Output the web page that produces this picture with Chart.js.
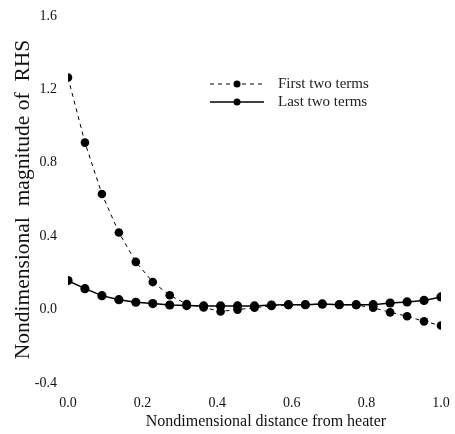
<!DOCTYPE html>
<html>
<head>
<meta charset="utf-8">
<script src="https://cdn.jsdelivr.net/npm/chart.js@4/dist/chart.umd.min.js"></script>
<style>
html,body{margin:0;padding:0;background:#fff;}
canvas{display:block;}
</style>
</head>
<body>
<canvas id="c" width="455" height="434"></canvas>
<script>
// x positions: 23 evenly spaced stations from 0 to 1
const xValues = [0,1/22,2/22,3/22,4/22,5/22,6/22,7/22,8/22,9/22,10/22,11/22,12/22,13/22,14/22,15/22,16/22,17/22,18/22,19/22,20/22,21/22,1];
const firstTwoTerms = [1.265,0.91,0.63,0.42,0.26,0.15,0.078,0.03,0.012,-0.01,0.0,0.01,0.02,0.025,0.027,0.03,0.027,0.025,0.01,-0.015,-0.036,-0.064,-0.087];
const lastTwoTerms = [0.158,0.114,0.076,0.054,0.04,0.033,0.025,0.022,0.02,0.02,0.02,0.02,0.025,0.027,0.027,0.031,0.027,0.027,0.027,0.036,0.042,0.05,0.069];
const seriesNames = ['First two terms','Last two terms'];
const xTickLabels = ['0.0','0.2','0.4','0.6','0.8','1.0'];
const yTickLabels = ['-0.4','0.0','0.4','0.8','1.2','1.6'];
const xTitle = 'Nondimensional distance from heater';
const yTitle = 'Nondimensional  magnitude of  RHS';

const SERIF = '"Liberation Serif", "DejaVu Serif", serif';

const legendPlugin = {
  id: 'customLegend',
  afterDraw(chart) {
    const ctx = chart.ctx;
    const rows = [{y: 84, dash: [4,4], w: 1}, {y: 102, dash: [], w: 1.5}];
    chart.data.datasets.forEach((ds, i) => {
      const r = rows[i];
      ctx.save();
      ctx.strokeStyle = '#000';
      ctx.lineWidth = r.w;
      ctx.setLineDash(r.dash);
      ctx.beginPath();
      ctx.moveTo(210, r.y);
      ctx.lineTo(264, r.y);
      ctx.stroke();
      ctx.setLineDash([]);
      ctx.fillStyle = '#000';
      ctx.beginPath();
      ctx.arc(237, r.y, 3.5, 0, Math.PI * 2);
      ctx.fill();
      ctx.fillStyle = '#222';
      ctx.font = '15px ' + SERIF;
      ctx.textAlign = 'left';
      ctx.textBaseline = 'middle';
      ctx.fillText(ds.label, 278, r.y);
      ctx.restore();
    });
    // x axis title, slightly right of the plot centre as in the original
    ctx.save();
    ctx.fillStyle = '#111';
    ctx.font = '16px ' + SERIF;
    ctx.textAlign = 'center';
    ctx.textBaseline = 'middle';
    ctx.fillText(xTitle, 266, 422);
    ctx.restore();
  }
};

new Chart(document.getElementById('c'), {
  type: 'line',
  data: {
    datasets: [
      {
        label: seriesNames[0],
        data: xValues.map((x, i) => ({x: x, y: firstTwoTerms[i]})),
        borderColor: '#000',
        borderWidth: 1,
        borderDash: [4,4],
        pointRadius: 4.3,
        pointBackgroundColor: '#000',
        pointBorderColor: '#000',
        pointBorderWidth: 0,
        fill: false,
        tension: 0
      },
      {
        label: seriesNames[1],
        data: xValues.map((x, i) => ({x: x, y: lastTwoTerms[i]})),
        borderColor: '#000',
        borderWidth: 1.5,
        pointRadius: 4.6,
        pointBackgroundColor: '#000',
        pointBorderColor: '#000',
        pointBorderWidth: 0,
        fill: false,
        tension: 0
      }
    ]
  },
  options: {
    responsive: false,
    animation: false,
    events: [],
    layout: {padding: 0},
    plugins: {legend: {display: false}, tooltip: {enabled: false}},
    scales: {
      x: {
        type: 'linear',
        min: 0, max: 1,
        border: {display: false},
        grid: {display: false, drawTicks: false},
        ticks: {
          stepSize: 0.2,
          padding: 12,
          color: '#111',
          maxRotation: 0,
          font: {family: SERIF, size: 14},
          callback: (v, i) => xTickLabels[i]
        },
        title: {display: false},
        afterFit: (s) => { s.height = 51; s.paddingLeft = 0; s.paddingRight = 14; }
      },
      y: {
        type: 'linear',
        min: -0.4, max: 1.6,
        border: {display: false},
        grid: {display: false, drawTicks: false},
        ticks: {
          stepSize: 0.4,
          padding: 11,
          color: '#111',
          font: {family: SERIF, size: 14},
          callback: (v, i) => yTickLabels[i]
        },
        title: {
          display: true,
          text: yTitle,
          color: '#111',
          font: {family: SERIF, size: 21.5},
          padding: {top: 10, bottom: 0}
        },
        afterFit: (s) => { s.width = 68; s.paddingTop = 16; s.paddingBottom = 0; }
      }
    }
  },
  plugins: [legendPlugin]
});
</script>
</body>
</html>
